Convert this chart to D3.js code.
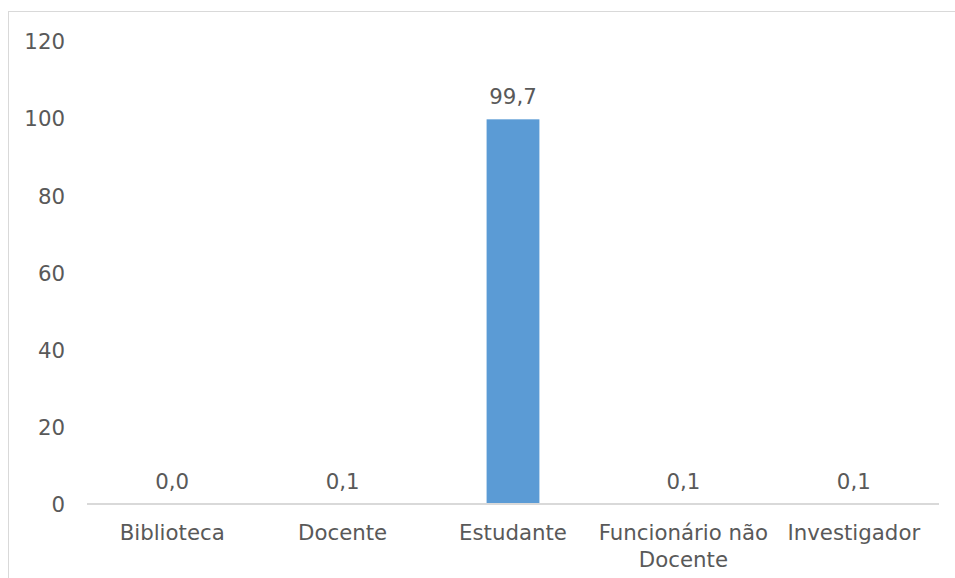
<!DOCTYPE html>
<html><head><meta charset="utf-8">
<script src="https://cdn.jsdelivr.net/npm/d3@7"></script>
<style>html,body{margin:0;padding:0;background:#fff;}svg{display:block;}</style>
</head><body>
<svg id="c" width="955" height="578"></svg>
<script>
const categories = ["Biblioteca", "Docente", "Estudante", "Funcionário não Docente", "Investigador"];
const values = [0.0, 0.1, 99.7, 0.1, 0.1];
const yTicks = [0, 20, 40, 60, 80, 100, 120];

const svg = d3.select("#c");
const W = 955, H = 578;
const font = "DejaVu Sans, Verdana, sans-serif";
const fs = 21.3;
const txt = "#595959";

svg.append("rect").attr("x", 8.5).attr("y", 11.5).attr("width", 1000).attr("height", 1000)
  .attr("fill", "#fff").attr("stroke", "#d9d9d9").attr("stroke-width", 1);

const x = d3.scaleBand().domain(categories).range([87, 939]).paddingInner(0.69).paddingOuter(0.345);
const y = d3.scaleLinear().domain([0, 120]).range([504, 41]);

// y axis labels
const yAxis = d3.axisLeft(y).tickValues(yTicks).tickSize(0).tickPadding(0).tickFormat(d3.format("d"));
const ya = svg.append("g").attr("transform", "translate(65,0)").call(yAxis);
ya.select(".domain").remove();
ya.selectAll("text").attr("font-family", font).attr("font-size", fs).attr("fill", txt).attr("dy", "0.36em");

// bars
svg.append("g").selectAll("rect").data(values).join("rect")
  .attr("x", (d, i) => x(categories[i]))
  .attr("y", d => y(d))
  .attr("width", x.bandwidth())
  .attr("height", d => y(0) - y(d))
  .attr("fill", "#5b9bd5");

// x axis
const xb = d3.scaleBand().domain(categories).range([87, 939]);
const xAxis = d3.axisBottom(xb).tickSize(0).tickPadding(0);
const xa = svg.append("g").attr("transform", `translate(0,${y(0)})`).call(xAxis);
xa.select(".domain").attr("stroke", "#d9d9d9").attr("stroke-width", 2).attr("d", `M87,0H939`);
xa.selectAll("text").attr("font-family", font).attr("font-size", fs).attr("fill", txt)
  .attr("dy", null).attr("y", 36)
  .each(function(d) {
    const t = d3.select(this);
    const words = d.split(" ");
    t.text(null);
    let line = [], lines = [];
    let ts = t.append("tspan").attr("x", 0);
    const maxW = xb.bandwidth();
    words.forEach(w => {
      line.push(w);
      ts.text(line.join(" "));
      if (ts.node().getComputedTextLength() > maxW && line.length > 1) {
        line.pop();
        ts.text(line.join(" "));
        lines.push(line.join(" "));
        line = [w];
      }
    });
    lines.push(line.join(" "));
    t.text(null);
    lines.forEach((l, k) => t.append("tspan").attr("x", 0).attr("dy", k === 0 ? 0 : 26.7).text(l));
  });

// value labels
const fmt = v => d3.format(".1f")(v).replace(".", ",");
svg.append("g").selectAll("text").data(values).join("text")
  .attr("x", (d, i) => x(categories[i]) + x.bandwidth() / 2)
  .attr("y", d => y(d) - 15)
  .attr("text-anchor", "middle")
  .attr("font-family", font).attr("font-size", fs).attr("fill", txt)
  .text(d => fmt(d));
</script>
</body></html>
